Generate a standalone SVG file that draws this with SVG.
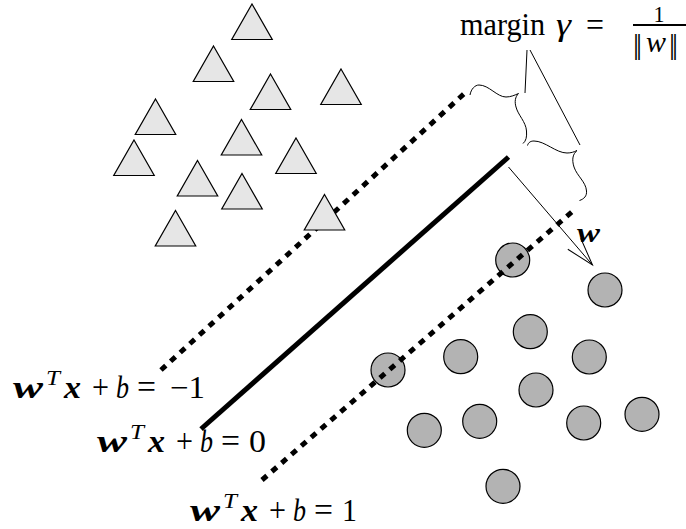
<svg xmlns="http://www.w3.org/2000/svg" xmlns:xlink="http://www.w3.org/1999/xlink" width="686" height="529" viewBox="0 0 686 529">
<style>
.tri{fill:#e6e6e6;stroke:#000;stroke-width:1.2;stroke-linejoin:miter}
.cir{fill:#b3b3b3;stroke:#000;stroke-width:1.2}
.dash{fill:none;stroke:#000;stroke-width:5;stroke-dasharray:6.5 6.5}
.solid{fill:none;stroke:#000;stroke-width:5}
.thin{fill:none;stroke:#000;stroke-width:1}
text{font-family:'Liberation Serif',serif;fill:#000}
</style>
<defs>
<polygon id="tri" class="tri" points="0,0 20.25,35.5 -20.25,35.5"/>
<marker id="arr" markerUnits="userSpaceOnUse" viewBox="-30 -10 32 20" refX="0" refY="0" markerWidth="32" markerHeight="20" orient="auto" overflow="visible">
<path d="M-28,-8.5 L0,0 L-28,8.5" fill="none" stroke="#000" stroke-width="1"/>
</marker>
</defs>

<g id="circles">
<g id="c1"><circle class="cir" cx="512.7" cy="260" r="17"/></g>
<g id="c2"><circle class="cir" cx="605" cy="290" r="17"/></g>
<g id="c3"><circle class="cir" cx="530.3" cy="331.7" r="17"/></g>
<g id="c4"><circle class="cir" cx="460.7" cy="356.7" r="17"/></g>
<g id="c5"><circle class="cir" cx="589.3" cy="357" r="17"/></g>
<g id="c6"><circle class="cir" cx="388" cy="370" r="17"/></g>
<g id="c7"><circle class="cir" cx="536" cy="390" r="17"/></g>
<g id="c8"><circle class="cir" cx="424.3" cy="430.3" r="17"/></g>
<g id="c9"><circle class="cir" cx="479.7" cy="421.3" r="17"/></g>
<g id="c10"><circle class="cir" cx="583.7" cy="423" r="17"/></g>
<g id="c11"><circle class="cir" cx="642" cy="414.3" r="17"/></g>
<g id="c12"><circle class="cir" cx="503" cy="486.3" r="17"/></g>
</g>

<g id="connectors">
<line id="margin-neg" class="dash" x1="161" y1="370" x2="466" y2="92"/>
<line id="hyperplane" class="solid" x1="201" y1="429" x2="508.5" y2="157"/>
<line id="margin-pos" class="dash" x1="262" y1="480" x2="574" y2="210"/>
<line id="normal-w" class="thin" x1="508.5" y1="167" x2="592.5" y2="265" marker-end="url(#arr)"/>
<path id="brace1" class="thin" d="M470,95 C471,89 475,85 479,85 C489,85 497,97 506,97 C511,97 515,95 518.5,93.5 C515,97 514.5,102 516,107 C518,115 526,122 526.5,131 C527,137 526,141 523,143.5"/>
<path id="brace2" class="thin" d="M527.5,145.5 C528.5,142 531,141 534,141 C545,141 556,153 567,153 C571,153 574,152 577,150.5 C573,154 571.5,159 574,167 C577,176 586,182 586.5,191 C587,196 584,199 579.5,200.5"/>
<line id="lead1" class="thin" x1="527" y1="50" x2="525" y2="93"/>
<line id="lead2" class="thin" x1="530" y1="50" x2="580" y2="145"/>
</g>

<g id="triangles">
<g id="t1"><use xlink:href="#tri" x="252" y="4"/></g>
<g id="t2"><use xlink:href="#tri" x="213.5" y="46"/></g>
<g id="t3"><use xlink:href="#tri" x="270.5" y="74"/></g>
<g id="t4"><use xlink:href="#tri" x="341" y="69"/></g>
<g id="t5"><use xlink:href="#tri" x="155.5" y="99"/></g>
<g id="t6"><use xlink:href="#tri" x="241.5" y="119.5"/></g>
<g id="t7"><use xlink:href="#tri" x="134" y="140"/></g>
<g id="t8"><use xlink:href="#tri" x="296" y="138"/></g>
<g id="t9"><use xlink:href="#tri" x="197.5" y="160.5"/></g>
<g id="t10"><use xlink:href="#tri" x="242" y="173.5"/></g>
<g id="t11"><use xlink:href="#tri" x="324.5" y="194.5"/></g>
<g id="t12"><use xlink:href="#tri" x="175.5" y="210.5"/></g>
</g>

<g id="label-margin">
<text x="460" y="35" style="font-size:31px" textLength="85" lengthAdjust="spacingAndGlyphs">margin</text>
<text x="556" y="35" style="font-size:31px;font-style:italic" textLength="15" lengthAdjust="spacingAndGlyphs">γ</text>
<text x="586" y="36" style="font-size:34px" textLength="18" lengthAdjust="spacingAndGlyphs">=</text>
<text x="659" y="22" style="font-size:24px" text-anchor="middle" textLength="11" lengthAdjust="spacingAndGlyphs">1</text>
<line x1="633" y1="25" x2="686" y2="25" stroke="#000" stroke-width="2"/>
<text x="633" y="54" style="font-size:30px" textLength="9" lengthAdjust="spacing">||</text>
<text x="646" y="52" style="font-size:30px;font-style:italic" textLength="20" lengthAdjust="spacingAndGlyphs">w</text>
<text x="669" y="54" style="font-size:30px" textLength="9" lengthAdjust="spacing">||</text>
</g>

<g id="label-w">
<text x="577" y="242" style="font-size:27px;font-style:italic;font-weight:bold" textLength="23" lengthAdjust="spacingAndGlyphs">w</text>
</g>

<g id="label-neg" transform="translate(13,398)">
<text x="0" y="0" style="font-size:31px;font-style:italic;font-weight:bold" textLength="30" lengthAdjust="spacingAndGlyphs">w</text>
<text x="33" y="-13" style="font-size:22px;font-style:italic" textLength="14" lengthAdjust="spacingAndGlyphs">T</text>
<text x="51" y="0" style="font-size:31px;font-style:italic;font-weight:bold" textLength="17" lengthAdjust="spacingAndGlyphs">x</text>
<text x="79" y="0" style="font-size:34px" textLength="17" lengthAdjust="spacingAndGlyphs">+</text>
<text x="103" y="0" style="font-size:31px;font-style:italic" textLength="13" lengthAdjust="spacingAndGlyphs">b</text>
<text x="124" y="0" style="font-size:34px" textLength="19" lengthAdjust="spacingAndGlyphs">=</text>
<text x="157" y="0" style="font-size:31px" textLength="35" lengthAdjust="spacingAndGlyphs">−1</text>
</g>

<g id="label-zero" transform="translate(97,452)">
<text x="0" y="0" style="font-size:31px;font-style:italic;font-weight:bold" textLength="30" lengthAdjust="spacingAndGlyphs">w</text>
<text x="33" y="-13" style="font-size:22px;font-style:italic" textLength="14" lengthAdjust="spacingAndGlyphs">T</text>
<text x="51" y="0" style="font-size:31px;font-style:italic;font-weight:bold" textLength="17" lengthAdjust="spacingAndGlyphs">x</text>
<text x="79" y="0" style="font-size:34px" textLength="17" lengthAdjust="spacingAndGlyphs">+</text>
<text x="103" y="0" style="font-size:31px;font-style:italic" textLength="13" lengthAdjust="spacingAndGlyphs">b</text>
<text x="124" y="0" style="font-size:34px" textLength="19" lengthAdjust="spacingAndGlyphs">=</text>
<text x="152" y="0" style="font-size:31px" textLength="17" lengthAdjust="spacingAndGlyphs">0</text>
</g>

<g id="label-pos" transform="translate(190,521)">
<text x="0" y="0" style="font-size:31px;font-style:italic;font-weight:bold" textLength="30" lengthAdjust="spacingAndGlyphs">w</text>
<text x="33" y="-13" style="font-size:22px;font-style:italic" textLength="14" lengthAdjust="spacingAndGlyphs">T</text>
<text x="51" y="0" style="font-size:31px;font-style:italic;font-weight:bold" textLength="17" lengthAdjust="spacingAndGlyphs">x</text>
<text x="79" y="0" style="font-size:34px" textLength="17" lengthAdjust="spacingAndGlyphs">+</text>
<text x="103" y="0" style="font-size:31px;font-style:italic" textLength="13" lengthAdjust="spacingAndGlyphs">b</text>
<text x="124" y="0" style="font-size:34px" textLength="19" lengthAdjust="spacingAndGlyphs">=</text>
<text x="152" y="0" style="font-size:31px" textLength="15" lengthAdjust="spacingAndGlyphs">1</text>
</g>
</svg>
